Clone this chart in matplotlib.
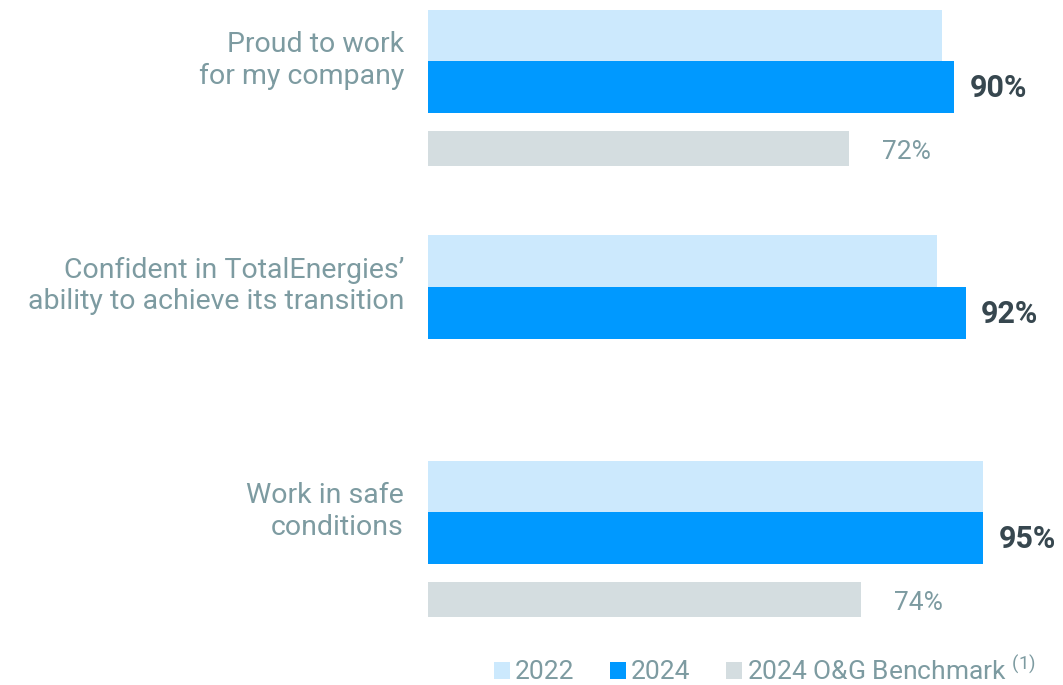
import matplotlib
matplotlib.use("Agg")
import matplotlib.pyplot as plt
from matplotlib.patches import Patch

# -- Survey data (% of employees) ------------------------------------------------
questions = [
    "Proud to work\nfor my company",
    "Confident in TotalEnergies’\nability to achieve its transition",
    "Work in safe\nconditions",
]
score_2022 = [88, 87, 95]
score_2024 = [90, 92, 95]
benchmark_2024 = [72, None, 74]   # no O&G benchmark for the transition question

series_labels = ["2022", "2024", "2024 O&G Benchmark $^{(1)}$"]

# -- Style -----------------------------------------------------------------------
C_2022 = "#CCE9FD"
C_2024 = "#0099FF"
C_BENCH = "#D4DDE0"
C_TEXT = "#7D9BA1"
C_VALUE = "#37474F"

plt.rcParams["font.family"] = ["Roboto", "DejaVu Sans"]
plt.rcParams["mathtext.fontset"] = "custom"
plt.rcParams["mathtext.rm"] = "Roboto"
plt.rcParams["mathtext.default"] = "regular"

W, H = 1063, 685
fig = plt.figure(figsize=(W / 100, H / 100), dpi=100)
# axes in pixel space vertically, percent horizontally
x0 = 428
ax = fig.add_axes([x0 / W, 0, (W - x0) / W, 1])
px_per_pct = 5.845
ax.set_xlim(0, (W - x0) / px_per_pct)
ax.set_ylim(H, 0)
ax.axis("off")

group_step = 225.5
first_center = 35.5
h_main = 52
h_bench = 35

for i, q in enumerate(questions):
    y22 = first_center + i * group_step
    y24 = y22 + 51.5
    yb = y22 + 113

    ax.barh(y22, score_2022[i], height=h_main, color=C_2022, linewidth=0)
    ax.barh(y24, score_2024[i], height=h_main, color=C_2024, linewidth=0)
    ax.annotate(f"{score_2024[i]}%", (score_2024[i], y24 + 1), xytext=(11, 0),
                textcoords="offset points", ha="left", va="center",
                fontsize=22, fontweight="bold", color=C_VALUE)

    if benchmark_2024[i] is not None:
        ax.barh(yb, benchmark_2024[i], height=h_bench, color=C_BENCH, linewidth=0)
        ax.annotate(f"{benchmark_2024[i]}%", (benchmark_2024[i], yb + 3),
                    xytext=(24, 0), textcoords="offset points",
                    ha="left", va="center", fontsize=19, color=C_TEXT)

    # question label, centred on the 2022/2024 boundary
    fig.text(404 / W, 1 - (y22 + 25) / H, q, ha="right", va="center",
             fontsize=20.5, color=C_TEXT, linespacing=1.2)

# -- Legend ----------------------------------------------------------------------
handles = [
    Patch(facecolor=C_2022, label=series_labels[0]),
    Patch(facecolor=C_2024, label=series_labels[1]),
    Patch(facecolor=C_BENCH, label=series_labels[2]),
]
leg = fig.legend(handles=handles, loc="center right",
                 bbox_to_anchor=(1036 / W, 1 - 670 / H), ncol=3, frameon=False,
                 fontsize=19, handlelength=0.6, handleheight=0.6,
                 handletextpad=0.2, columnspacing=1.35, borderaxespad=0,
                 borderpad=0)
for t in leg.get_texts():
    t.set_color(C_TEXT)

fig.savefig("out.png", dpi=100)
